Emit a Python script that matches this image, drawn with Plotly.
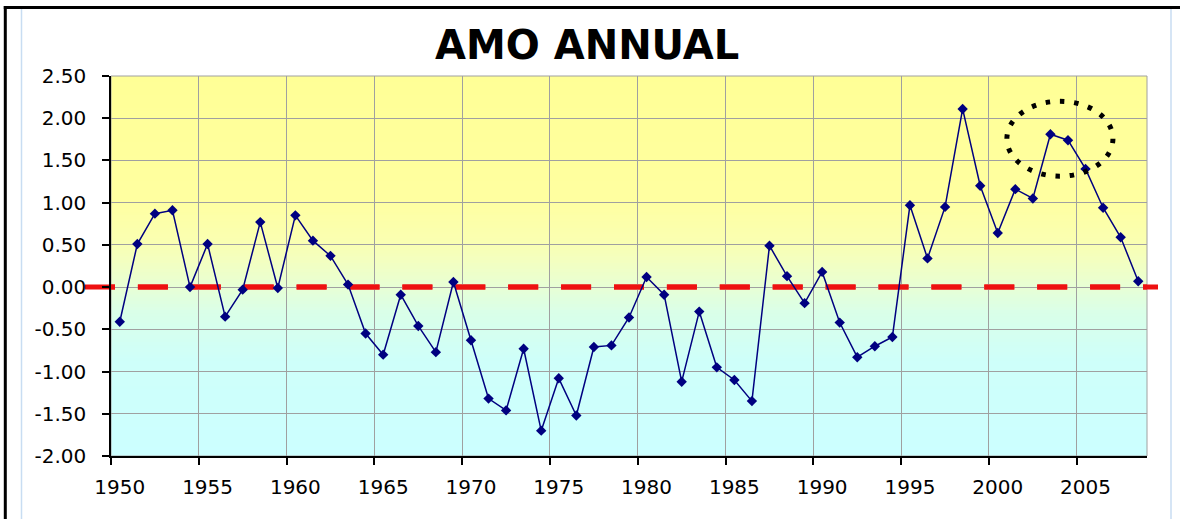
import plotly.graph_objects as go

# ---------------- data ----------------
years = list(range(1950, 2009))
amo = [-0.41, 0.51, 0.87, 0.91, 0.00, 0.51, -0.35, -0.03, 0.77, -0.01,
       0.85, 0.55, 0.37, 0.03, -0.55, -0.80, -0.09, -0.46, -0.77, 0.06,
       -0.63, -1.32, -1.46, -0.73, -1.70, -1.08, -1.52, -0.71, -0.69, -0.36,
       0.12, -0.09, -1.12, -0.29, -0.95, -1.10, -1.35, 0.49, 0.13, -0.19,
       0.18, -0.42, -0.83, -0.70, -0.59, 0.97, 0.34, 0.95, 2.11, 1.20,
       0.64, 1.16, 1.05, 1.81, 1.74, 1.40, 0.94, 0.59, 0.07]
x_tick_years = [1950, 1955, 1960, 1965, 1970, 1975, 1980, 1985, 1990, 1995, 2000, 2005]
x_tick_labels = ["1950", "1955", "1960", "1965", "1970", "1975", "1980", "1985",
                 "1990", "1995", "2000", "2005"]
y_tick_values = [2.5, 2.0, 1.5, 1.0, 0.5, 0.0, -0.5, -1.0, -1.5, -2.0]
y_tick_labels = ["2.50", "2.00", "1.50", "1.00", "0.50", "0.00", "-0.50", "-1.00", "-1.50", "-2.00"]
reference_level = 0.0
title_text = "AMO ANNUAL"

# ---------------- geometry ----------------
W, H = 1180, 519
ML, MR, MT, MB = 111, 33, 76, 63
PW, PH = W - ML - MR, H - MT - MB
YMIN, YMAX = -2.0, 2.5
XMIN, XMAX = years[0] - 0.5, years[-1] + 0.5
PX_PER_YEAR = PW / (XMAX - XMIN)


def px_x(px):
    return (px - ML) / PW


def px_y(py):
    return (H - MB - py) / PH


def px_to_year(px):
    return XMIN + (px - ML) / PX_PER_YEAR


FONT = "DejaVu Sans"
GRID = "#A0A0A0"

shapes = []

# background vertical gradient (light cyan bottom -> light yellow top)
stops = [
    (0.00, (204, 255, 255)),
    (0.25, (206, 255, 250)),
    (0.38, (218, 255, 232)),
    (0.47, (236, 255, 205)),
    (0.56, (250, 255, 178)),
    (0.68, (255, 255, 160)),
    (1.00, (255, 255, 150)),
]


def grad_color(f):
    for (f0, c0), (f1, c1) in zip(stops[:-1], stops[1:]):
        if f0 <= f <= f1:
            t = (f - f0) / (f1 - f0) if f1 > f0 else 0
            c = [round(a + (b - a) * t) for a, b in zip(c0, c1)]
            return "rgb(%d,%d,%d)" % tuple(c)
    return "rgb(%d,%d,%d)" % stops[-1][1]


NSTEP = 120
for i in range(NSTEP):
    f = i / NSTEP
    shapes.append(dict(type="rect", xref="paper", yref="paper", x0=0, x1=1,
                       y0=f, y1=1, fillcolor=grad_color(f + 0.5 / NSTEP),
                       line=dict(width=0), layer="below"))

# plot border (top / right grey)
shapes.append(dict(type="rect", xref="paper", yref="paper", x0=0, x1=1, y0=0, y1=1,
                   line=dict(color=GRID, width=1), fillcolor="rgba(0,0,0,0)", layer="below"))

# red dashed reference line (extends slightly beyond plot)
RED = "#EE1111"
RED_DASH = "30px,22.9px"
yref0 = (reference_level - YMIN) / (YMAX - YMIN)
shapes.append(dict(type="line", xref="paper", yref="paper", x0=px_x(85), x1=px_x(1158),
                   y0=yref0, y1=yref0,
                   line=dict(color=RED, width=5, dash=RED_DASH), layer="below"))
# same line again (clipped to the plot) drawn above the gridlines, below the data
shapes.append(dict(type="line", xref="x", yref="y", x0=px_to_year(85), x1=px_to_year(1158),
                   y0=reference_level, y1=reference_level,
                   line=dict(color=RED, width=5, dash=RED_DASH), layer="between"))

# dotted highlight ellipse around the 2003-2004 peak
cx, cy, rx, ry = 2003.54, 1.757, 3.02, 0.444
shapes.append(dict(type="circle", xref="x", yref="y", x0=cx - rx, x1=cx + rx,
                   y0=cy - ry, y1=cy + ry,
                   line=dict(color="black", width=5, dash="4.5px,9.8px"), layer="above"))

# outer frame decorations
shapes.append(dict(type="line", xref="paper", yref="paper", x0=px_x(3.8), x1=px_x(1182),
                   y0=px_y(7.5), y1=px_y(7.5), line=dict(color="black", width=3)))
shapes.append(dict(type="line", xref="paper", yref="paper", x0=px_x(5.3), x1=px_x(5.3),
                   y0=px_y(6), y1=px_y(522), line=dict(color="black", width=3)))
for xp in (21.5, 1171):
    shapes.append(dict(type="line", xref="paper", yref="paper", x0=px_x(xp), x1=px_x(xp),
                       y0=px_y(9), y1=px_y(522), line=dict(color="#C8DDF2", width=1.5)))

fig = go.Figure()
fig.add_trace(go.Scatter(
    x=years, y=amo, mode="lines+markers",
    line=dict(color="#000080", width=1.5),
    marker=dict(symbol="diamond", size=8, color="#000080", line=dict(width=0)),
    cliponaxis=False, hoverinfo="x+y",
))

fig.update_layout(
    width=W, height=H,
    margin=dict(l=ML, r=MR, t=MT, b=MB, pad=0),
    paper_bgcolor="white",
    plot_bgcolor="rgba(0,0,0,0)",
    showlegend=False,
    shapes=shapes,
    annotations=[dict(text="<b>%s</b>" % title_text, xref="paper", yref="paper",
                      x=px_x(587), y=px_y(45), xanchor="center", yanchor="middle",
                      showarrow=False,
                      font=dict(family=FONT, size=40, color="black"))],
    xaxis=dict(
        range=[XMIN, XMAX], tickmode="array", tickvals=x_tick_years, ticktext=x_tick_labels,
        ticks="", showgrid=False, zeroline=False,
        showline=True, linecolor="black", linewidth=1.5,
        tickfont=dict(family=FONT, size=20, color="black"),
        ticklabelstandoff=12,
        minor=dict(tickmode="array", tickvals=[v - 0.5 for v in x_tick_years],
                   ticks="outside", ticklen=7, tickwidth=1.5, tickcolor="black",
                   showgrid=True, gridcolor=GRID, gridwidth=1),
    ),
    yaxis=dict(
        range=[YMIN, YMAX], tickmode="array", tickvals=y_tick_values, ticktext=y_tick_labels,
        ticks="outside", ticklen=7, tickwidth=1.5, tickcolor="black",
        showgrid=True, gridcolor=GRID, gridwidth=1, zeroline=False,
        showline=True, linecolor="black", linewidth=1.5,
        tickfont=dict(family=FONT, size=20, color="black"),
        ticklabelstandoff=12,
    ),
)

fig.write_html("out.html", config={"displayModeBar": False},
               post_script="document.body.style.margin='0px';")
